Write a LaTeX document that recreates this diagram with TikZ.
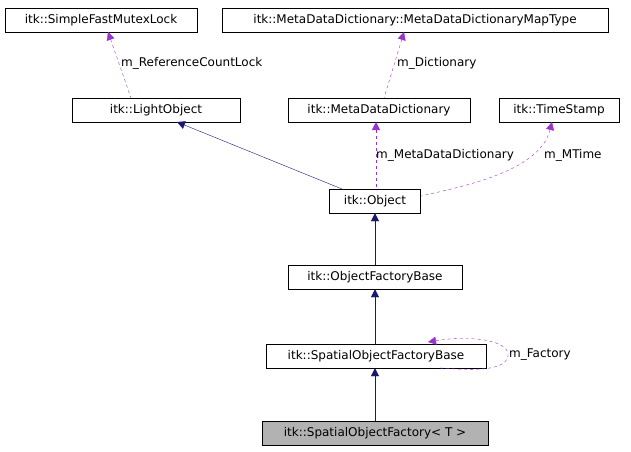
\documentclass[tikz,border=0pt]{standalone}
\usepackage{fontspec}
\setmainfont{DejaVu Sans}
\usetikzlibrary{arrows.meta}
\tikzset{
  cls/.style={draw,rectangle,inner sep=0pt,minimum height=24pt,font=\fontsize{12}{14}\selectfont},
  inh/.style={draw=navy,{Triangle[length=8pt,width=8pt,fill=navy]}-},
  use/.style={draw=usepurple,dashed,{Triangle[length=8pt,width=8pt,fill=usepurple]}-},
  lbl/.style={font=\fontsize{12}{14}\selectfont,inner sep=1pt}
}
\definecolor{navy}{RGB}{25,25,112}
\definecolor{usepurple}{RGB}{154,50,205}
\begin{document}
\begin{tikzpicture}[x=1pt,y=-1pt]
    \useasboundingbox (0,0) rectangle (631,451);
    % classes
    \node[cls,minimum width=192pt] (mutex) at (101,20) {itk::SimpleFastMutexLock};
    \node[cls,minimum width=386pt] (maptype) at (415,20) {itk::MetaDataDictionary::MetaDataDictionaryMapType};
    \node[cls,minimum width=168pt] (light) at (156,110) {itk::LightObject};
    \node[cls,minimum width=182pt] (mdd) at (379,110) {itk::MetaDataDictionary};
    \node[cls,minimum width=120pt] (stamp) at (559,110) {itk::TimeStamp};
    \node[cls,minimum width=91pt] (object) at (375,201) {itk::Object};
    \node[cls,minimum width=174pt] (ofb) at (375,277) {itk::ObjectFactoryBase};
    \node[cls,minimum width=220pt] (sofb) at (376,356) {itk::SpatialObjectFactoryBase};
    \node[cls,minimum width=226pt,fill=black!30] (sof) at (375,433) {itk::SpatialObjectFactory< T >};

    % inheritance
    \coordinate (lt) at (177,122);
    \coordinate (ot) at (342,189);
    \draw[inh] (lt) -- (ot);
    \draw[inh] (object.south) -- (ofb.north);
    \draw[inh] (ofb.south) -- (sofb.north -| ofb.south);
    \draw[inh] (sofb.south -| sof.north) -- (sof.north);

    % usage
    \draw[use] (108,32) -- (131,98);
    \node[lbl,anchor=west] (mrcl) at (120,63) {m\_ReferenceCountLock};
    \draw[use] (404,32) -- (384,98);
    \node[lbl,anchor=west] (mdict) at (396,63) {m\_Dictionary};
    \draw[use] (376,122) -- (376,189);
    \node[lbl,anchor=west] (mmdd) at (375,155) {m\_MetaDataDictionary};
    \draw[use] (552,122) .. controls (540,170) and (470,185) .. (421,196);
    \node[lbl,anchor=west] (mtime) at (543,155) {m\_MTime};
    \draw[use] (428,342) .. controls (470,335) and (510,340) .. (508,356)
                       .. controls (505,372) and (470,370) .. (440,368);
    \node[lbl,anchor=west] (mfac) at (508,355) {m\_Factory};
\end{tikzpicture}
\end{document}
